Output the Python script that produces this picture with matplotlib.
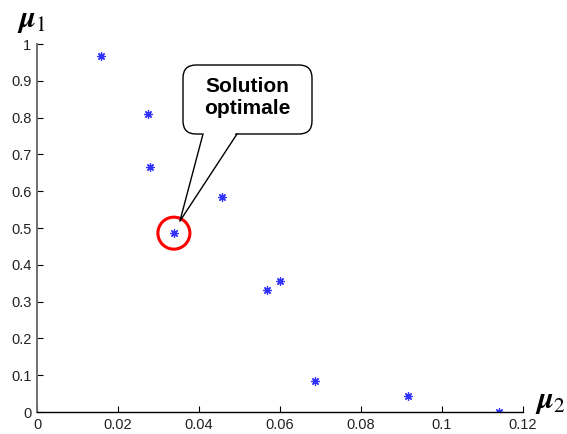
import matplotlib
matplotlib.use("Agg")
import matplotlib.pyplot as plt
from matplotlib.patches import FancyBboxPatch, Circle, Polygon

# data
mu2 = [0.0158, 0.0274, 0.0279, 0.0457, 0.0338, 0.0568, 0.0600, 0.0686, 0.0916, 0.1140]
mu1 = [0.967, 0.810, 0.666, 0.584, 0.486, 0.332, 0.356, 0.084, 0.043, 0.000]
best = 4  # index of the "Solution optimale" point

xticks = [0, 0.02, 0.04, 0.06, 0.08, 0.1, 0.12]
xlabels = ["0", "0.02", "0.04", "0.06", "0.08", "0.1", "0.12"]
yticks = [0, 0.1, 0.2, 0.3, 0.4, 0.5, 0.6, 0.7, 0.8, 0.9, 1]
ylabels = ["0", "0.1", "0.2", "0.3", "0.4", "0.5", "0.6", "0.7", "0.8", "0.9", "1"]

plt.rcParams["font.family"] = ["Liberation Sans", "DejaVu Sans"]
plt.rcParams["mathtext.fontset"] = "stix"

W, H = 567, 434
fig = plt.figure(figsize=(W / 100, H / 100), dpi=100)
ax = fig.add_axes([37 / W, 22 / H, 486 / W, 368 / H])

ax.plot(mu2, mu1, linestyle="none", marker=(8, 2, 0), markersize=6,
        color="blue", markeredgewidth=0.9, alpha=0.8)

ax.set_xlim(0, 0.12)
ax.set_ylim(0, 1)
ax.set_xticks(xticks)
ax.set_xticklabels(xlabels)
ax.set_yticks(yticks)
ax.set_yticklabels(ylabels)
ax.tick_params(direction="in", length=4, labelsize=10.5, pad=4,
               labelcolor="#222222")
ax.spines["top"].set_visible(False)
ax.spines["right"].set_visible(False)
ax.spines["left"].set_color("#707070")
ax.spines["left"].set_linewidth(1.4)
ax.spines["bottom"].set_linewidth(1.0)

# overlay in pixel coordinates (y down) for the callout
ov = fig.add_axes([0, 0, 1, 1])
ov.set_xlim(0, W)
ov.set_ylim(H, 0)
ov.axis("off")

px, py = ax.transData.transform((mu2[best], mu1[best]))
py = H - py

ov.add_patch(Circle((px, py), 16, facecolor="none", edgecolor="red", lw=2.2))

ov.add_patch(FancyBboxPatch((193, 75), 109, 49,
                            boxstyle="round,pad=10,rounding_size=13",
                            facecolor="white", edgecolor="black", lw=1.0))
tip = (px + 6, py - 12)
ov.add_patch(Polygon([(203, 131), (237, 131), tip], closed=True,
                     facecolor="white", edgecolor="none"))
ov.plot([203, tip[0], 237], [134, tip[1], 134], color="black", lw=1.0)
ov.text(247, 98, "Solution\noptimale", ha="center", va="center",
        fontsize=15, fontweight="bold", linespacing=1.2)

ov.text(32, 20, r"$\boldsymbol{\mu}_1$", ha="center", va="center", fontsize=22)
ov.text(551, 401, r"$\boldsymbol{\mu}_2$", ha="center", va="center", fontsize=22)

fig.savefig("out.png", dpi=100, facecolor="white")
